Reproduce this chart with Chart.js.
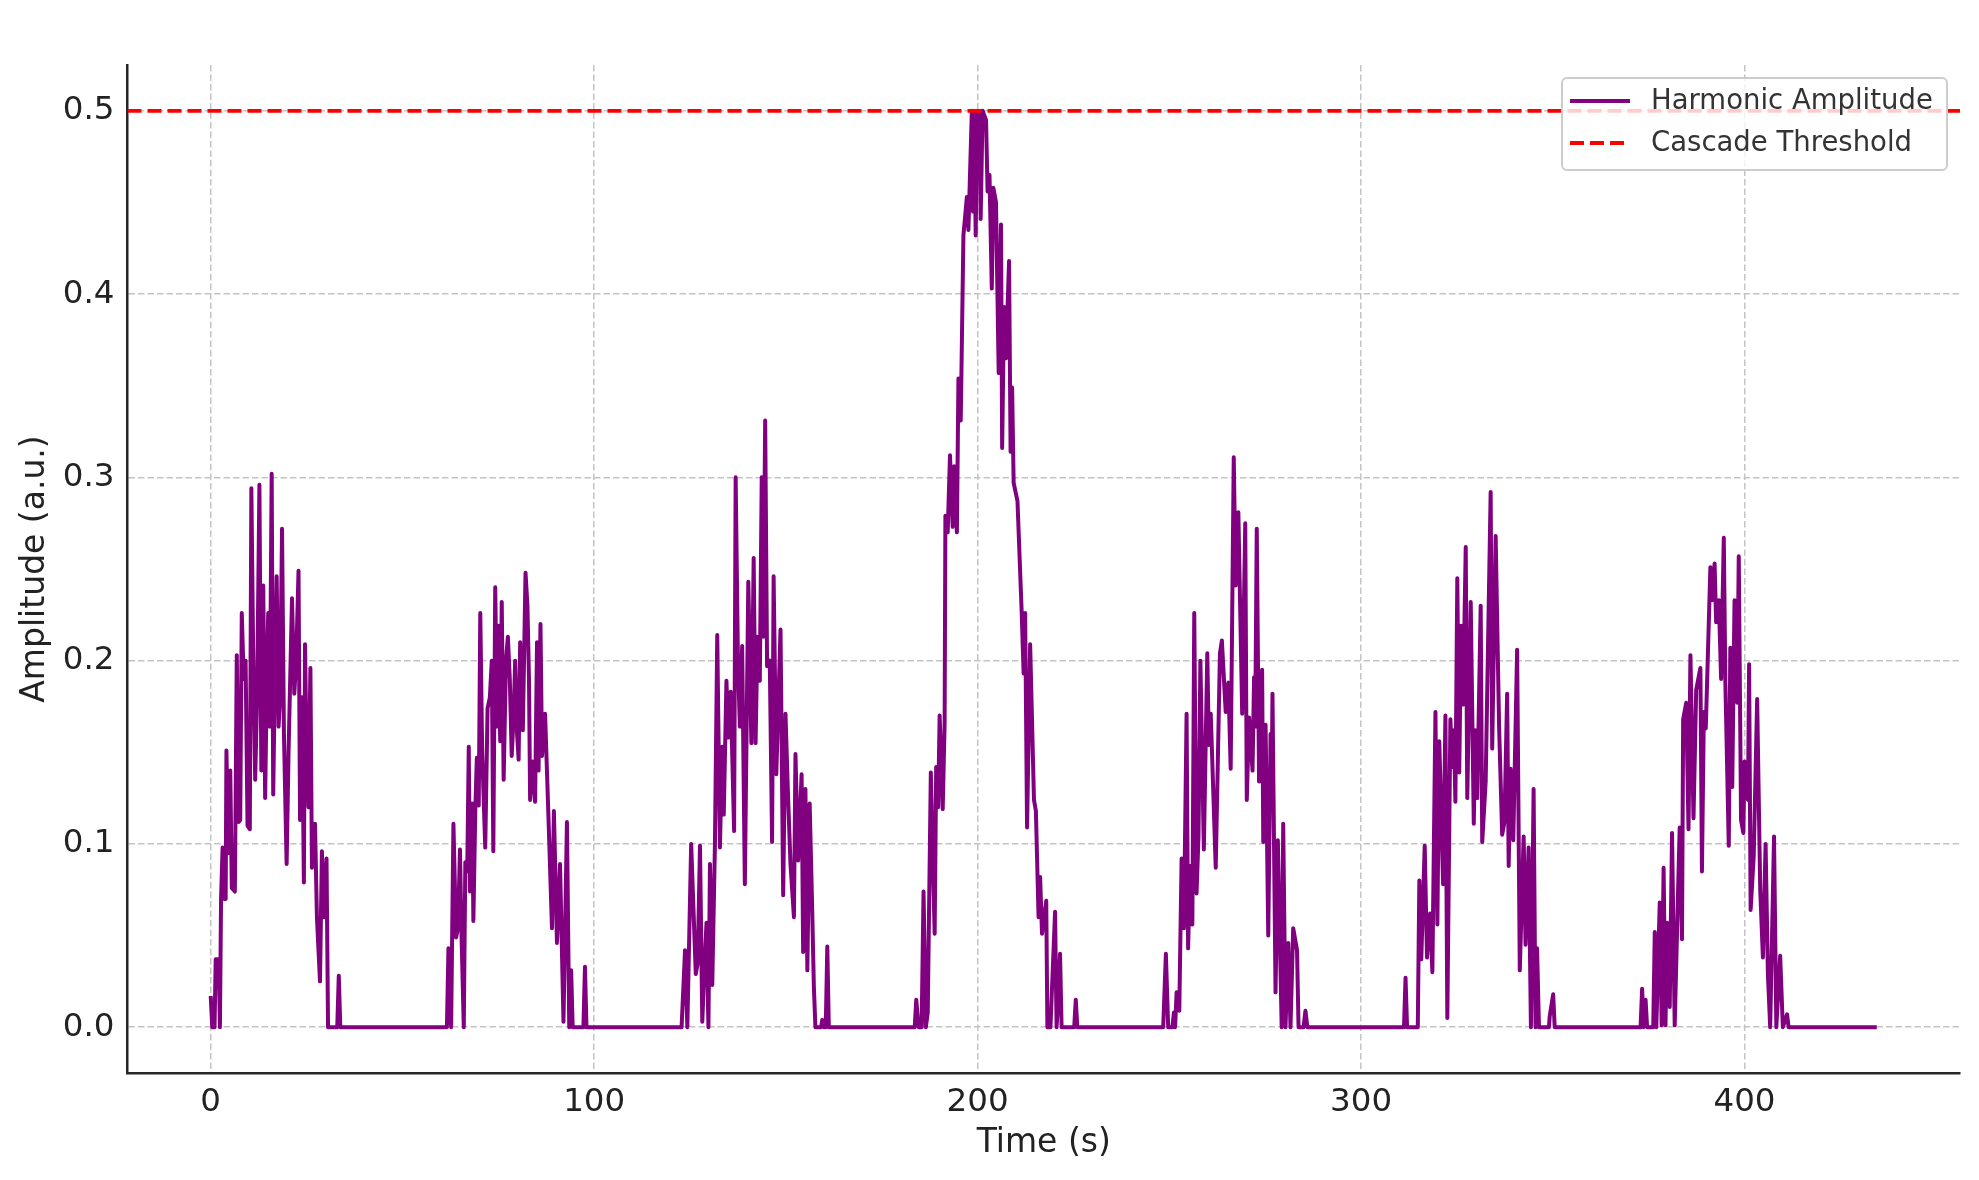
<!DOCTYPE html>
<html>
<head>
<meta charset="utf-8">
<script src="https://cdn.jsdelivr.net/npm/chart.js@4/dist/chart.umd.min.js"></script>
<style>
  html, body { margin: 0; padding: 0; background: #fff; }
  #wrap { width: 1979px; height: 1180px; }
</style>
</head>
<body>
<div id="wrap"><canvas id="chartEl"></canvas></div>
<script>
/* Données : [temps (s), amplitude] */
const burst1 = [[0, 0.017], [0.4, 0], [1.0, 0], [1.3, 0.037], [2.1, 0.037], [2.4, 0], [2.7, 0.07], [3.1, 0.098], [3.5, 0.07], [3.9, 0.07],
  [4.1, 0.151], [4.6, 0.095], [5.1, 0.14], [5.5, 0.076], [6.3, 0.074], [6.8, 0.203], [7.3, 0.112], [7.7, 0.113], [8.1, 0.226], [8.6, 0.19],
  [9.1, 0.2], [9.6, 0.11], [10.2, 0.108], [10.6, 0.294], [11.1, 0.2], [11.6, 0.135], [12.1, 0.18], [12.7, 0.296], [13.2, 0.14], [13.7, 0.241],
  [14.2, 0.125], [14.7, 0.2], [15.0, 0.226], [15.4, 0.164], [15.9, 0.302], [16.3, 0.127], [16.8, 0.2], [17.2, 0.246], [17.7, 0.164], [18.1, 0.18],
  [18.6, 0.272], [19.1, 0.16], [19.8, 0.089], [20.3, 0.15], [21.2, 0.234], [21.8, 0.182], [22.3, 0.2], [22.9, 0.249], [23.3, 0.113], [23.8, 0.18],
  [24.3, 0.079], [24.6, 0.209], [25.0, 0.15], [25.5, 0.12], [26.0, 0.196], [26.4, 0.087], [26.8, 0.1], [27.2, 0.111], [27.7, 0.06], [28.5, 0.025],
  [29.0, 0.096], [29.5, 0.06], [30.2, 0.092], [30.6, 0], [33.0, 0], [33.4, 0.028], [33.8, 0]]

const burst2 = [[61.6, 0], [62.0, 0.043], [62.7, 0], [63.3, 0.111], [64.0, 0.049], [64.5, 0.054], [65.0, 0.097], [65.4, 0.051], [66.0, 0], [66.4, 0.09],
  [66.9, 0.085], [67.3, 0.153], [67.6, 0.074], [68.2, 0.122], [68.5, 0.058], [69.0, 0.118], [69.4, 0.147], [69.9, 0.121], [70.3, 0.226], [70.8, 0.15],
  [71.6, 0.098], [72.2, 0.174], [72.8, 0.18], [73.3, 0.2], [73.7, 0.096], [74.2, 0.24], [74.7, 0.164], [75.0, 0.219], [75.5, 0.156], [75.9, 0.232],
  [76.4, 0.135], [77.0, 0.2], [77.5, 0.213], [78.0, 0.19], [78.5, 0.148], [79.0, 0.17], [79.4, 0.2], [79.9, 0.16], [80.3, 0.146], [80.7, 0.21],
  [81.4, 0.162], [82.1, 0.248], [82.6, 0.23], [83.0, 0.19], [83.3, 0.124], [83.9, 0.145], [84.6, 0.123], [85.1, 0.21], [85.5, 0.14], [86.0, 0.22],
  [86.4, 0.148], [87.2, 0.171], [88.0, 0.12], [89.0, 0.054], [89.5, 0.118], [90.3, 0.046], [91.1, 0.089], [92.0, 0.003], [92.9, 0.112], [93.5, 0],
  [94.0, 0.031], [94.4, 0], [97.2, 0], [97.6, 0.033], [98.0, 0]]

const burst3 = [[122.8, 0], [123.7, 0.042], [124.3, 0], [125.3, 0.1], [126.5, 0.029], [127.0, 0.035], [127.6, 0.099], [128.2, 0.003], [128.7, 0.03], [129.3, 0.057],
  [129.8, 0], [130.2, 0.089], [130.8, 0.023], [131.5, 0.1], [132.1, 0.214], [132.8, 0.098], [133.4, 0.153], [133.8, 0.116], [134.5, 0.189], [135.0, 0.158],
  [135.6, 0.183], [136.5, 0.107], [136.9, 0.3], [137.5, 0.2], [138.0, 0.164], [138.6, 0.208], [139.3, 0.078], [140.2, 0.243], [141.0, 0.155], [141.6, 0.256],
  [142.1, 0.155], [142.6, 0.213], [143.2, 0.189], [143.7, 0.3], [144.1, 0.213], [144.6, 0.331], [145.1, 0.197], [145.8, 0.2], [146.4, 0.101], [146.8, 0.246],
  [147.5, 0.138], [148.6, 0.217], [149.3, 0.072], [149.9, 0.171], [150.5, 0.13], [151.2, 0.089], [152.1, 0.06], [152.5, 0.149], [153.2, 0.091], [154.1, 0.138],
  [154.5, 0.041], [155.1, 0.13], [155.6, 0.031], [156.2, 0.122], [156.8, 0.07], [157.3, 0.022], [157.7, 0], [159.2, 0], [159.5, 0.004], [159.9, 0],
  [160.4, 0], [160.8, 0.044], [161.2, 0]]

const burst4 = [[183.6, 0], [184.0, 0.015], [184.6, 0], [185.4, 0], [185.9, 0.074], [186.5, 0], [187.0, 0.008], [187.8, 0.139], [188.8, 0.051], [189.2, 0.142],
  [189.7, 0.12], [190.1, 0.17], [190.9, 0.119], [191.4, 0.166], [191.6, 0.279], [192.2, 0.27], [192.8, 0.312], [193.5, 0.273], [193.9, 0.306], [194.6, 0.27],
  [195.0, 0.354], [195.6, 0.331], [196.3, 0.432], [197.2, 0.453], [197.6, 0.435], [198.5, 0.5], [198.8, 0.445], [199.1, 0.5], [199.5, 0.432], [199.9, 0.5],
  [200.3, 0.471], [200.6, 0.5], [200.8, 0.441], [201.3, 0.5], [202.2, 0.495], [202.6, 0.456], [203.1, 0.465], [203.7, 0.403], [204.1, 0.458], [204.8, 0.45],
  [205.5, 0.357], [206.1, 0.438], [206.4, 0.316], [206.9, 0.393], [207.4, 0.365], [208.2, 0.418], [208.6, 0.314], [209.0, 0.349], [209.4, 0.297], [210.4, 0.287],
  [211.5, 0.226], [212.0, 0.193], [212.4, 0.226], [212.9, 0.109], [213.7, 0.209], [214.7, 0.124], [215.2, 0.118], [215.9, 0.06], [216.3, 0.082], [216.8, 0.051],
  [217.9, 0.069], [218.2, 0], [219.0, 0], [220.2, 0.063], [220.6, 0], [221.0, 0.015], [221.5, 0.04], [221.9, 0], [225.2, 0], [225.6, 0.015], [226.0, 0]]

const burst5 = [[248.4, 0], [249.1, 0.04], [249.7, 0], [250.8, 0], [251.2, 0.008], [251.5, 0], [251.9, 0.019], [252.6, 0.009], [253.2, 0.092], [253.8, 0.054],
  [254.5, 0.171], [254.9, 0.043], [255.4, 0.088], [256.0, 0.056], [256.5, 0.226], [257.1, 0.073], [257.6, 0.104], [258.1, 0.2], [259.0, 0.097], [259.9, 0.204],
  [260.3, 0.154], [260.8, 0.171], [262.1, 0.087], [263.2, 0.204], [263.7, 0.211], [264.7, 0.172], [265.4, 0.188], [266.0, 0.141], [266.8, 0.311], [267.3, 0.241],
  [268.0, 0.281], [269.0, 0.171], [269.8, 0.275], [270.2, 0.124], [270.8, 0.169], [271.7, 0.14], [272.1, 0.191], [272.4, 0.164], [272.8, 0.272], [273.4, 0.134],
  [274.2, 0.195], [274.5, 0.101], [275.1, 0.165], [275.8, 0.05], [276.4, 0.16], [276.7, 0.134], [276.9, 0.182], [277.7, 0.019], [278.3, 0.102], [279.3, 0],
  [279.7, 0.111], [280.3, 0], [281.0, 0.046], [281.6, 0], [282.3, 0.054], [283.3, 0.042], [283.7, 0], [285.0, 0], [285.5, 0.009], [286.0, 0]]

const burst6 = [[311.2, 0], [311.6, 0.027], [312.0, 0], [314.8, 0], [315.2, 0.08], [315.7, 0.037], [316.6, 0.099], [317.2, 0.038], [318.0, 0.062], [318.6, 0.03],
  [319.4, 0.172], [319.9, 0.056], [320.4, 0.156], [321.4, 0.078], [322.0, 0.17], [322.5, 0.005], [323.3, 0.168], [323.8, 0.142], [324.2, 0.162], [324.6, 0.123],
  [325.1, 0.245], [325.6, 0.139], [326.1, 0.219], [326.6, 0.176], [327.3, 0.262], [327.7, 0.125], [328.6, 0.232], [329.4, 0.111], [329.8, 0.162], [330.3, 0.125],
  [331.2, 0.23], [331.6, 0.101], [332.5, 0.134], [333.8, 0.292], [334.2, 0.152], [335.1, 0.268], [336.0, 0.164], [336.8, 0.105], [337.4, 0.112], [338.1, 0.182],
  [338.5, 0.088], [339.0, 0.141], [339.7, 0.102], [340.7, 0.206], [341.4, 0.031], [342.4, 0.104], [342.9, 0.045], [343.7, 0.098], [344.3, 0], [345.0, 0.13],
  [345.5, 0], [345.9, 0.043], [346.4, 0], [349.0, 0], [349.2, 0.006], [350.1, 0.018], [350.5, 0]]

const burst7 = [[372.9, 0], [373.3, 0.021], [373.7, 0], [374.2, 0.015], [374.6, 0], [376.2, 0], [376.6, 0.052], [377.0, 0], [377.9, 0.068], [378.4, 0.001],
  [378.9, 0.087], [379.4, 0.001], [379.8, 0.057], [380.5, 0.011], [381.1, 0.106], [381.8, 0.001], [382.5, 0.06], [383.1, 0.109], [383.7, 0.048], [384.0, 0.168],
  [384.8, 0.177], [385.4, 0.108], [385.9, 0.203], [386.7, 0.114], [387.4, 0.184], [388.5, 0.196], [388.9, 0.085], [389.4, 0.172], [389.9, 0.163], [391.1, 0.251],
  [391.6, 0.233], [392.2, 0.253], [392.6, 0.221], [393.3, 0.233], [393.9, 0.19], [394.6, 0.267], [395.0, 0.189], [395.9, 0.099], [396.3, 0.207], [396.8, 0.131],
  [397.4, 0.233], [398.1, 0.177], [398.5, 0.257], [399.1, 0.113], [399.7, 0.106], [400.0, 0.145], [400.9, 0.124], [401.2, 0.198], [401.6, 0.064], [402.4, 0.093],
  [403.3, 0.179], [404.1, 0.075], [404.8, 0.038], [405.5, 0.1], [406.1, 0.029], [406.7, 0], [407.7, 0.104], [408.3, 0], [409.3, 0.039], [410.0, 0],
  [411.1, 0.007], [411.5, 0], [434.5, 0]]

const threshold = 0.5
const xLimits = [-21.7, 456.2]
const yLimits = [-0.025, 0.525]
const xTicks = [0, 100, 200, 300, 400]
const yTicks = [0, 0.1, 0.2, 0.3, 0.4, 0.5]

const harmonicColor = '#800080'
const thresholdColor = '#ff0000'
const dashPattern = [14, 6]
const fontFamily = '"DejaVu Sans", sans-serif'

const amplitudePoints = [burst1, burst2, burst3, burst4, burst5, burst6, burst7].flat().map(([x, y]) => ({ x, y }))

/* Légende encadrée dans le coin haut droit, comme matplotlib */
const boxLegend = {
  id: 'boxLegend',
  afterDraw: (chart) => {
    const { ctx, chartArea } = chart
    const w = 385, h = 92
    const x = chartArea.right - 13 - w
    const y = chartArea.top + 13
    ctx.save()
    ctx.beginPath()
    ctx.roundRect(x, y, w, h, 5)
    ctx.fillStyle = 'rgba(255,255,255,0.8)'
    ctx.fill()
    ctx.lineWidth = 2
    ctx.strokeStyle = '#cccccc'
    ctx.stroke()

    const rows = chart.data.datasets.map(d => ({ label: d.label, color: d.borderColor, dash: d.borderDash || [] }))
    rows.forEach((r, i) => {
      const cy = y + 23 + i * 42
      ctx.beginPath()
      ctx.setLineDash(r.dash)
      ctx.lineWidth = 3.8
      ctx.strokeStyle = r.color
      ctx.moveTo(x + 8, cy)
      ctx.lineTo(x + 68, cy)
      ctx.stroke()
      ctx.setLineDash([])
      ctx.fillStyle = '#333333'
      ctx.font = '27.5px ' + fontFamily
      ctx.textBaseline = 'middle'
      ctx.textAlign = 'left'
      ctx.fillText(r.label, x + 89, cy + 1)
    })
    ctx.restore()
  }
}

const gridOpts = { color: '#c4c4c4', lineWidth: 1.5, drawTicks: false }
const borderOpts = { display: true, color: '#262626', width: 2.5, dash: [6.5, 3] }

new Chart(document.querySelector('#chartEl'), {
  type: 'line',
  data: {
    datasets: [
      {
        label: 'Harmonic Amplitude',
        data: amplitudePoints,
        borderColor: harmonicColor,
        borderWidth: 4,
        borderJoinStyle: 'round',
        pointRadius: 0,
        tension: 0,
        order: 1
      },
      {
        label: 'Cascade Threshold',
        data: [{ x: xLimits[0], y: threshold }, { x: xLimits[1], y: threshold }],
        borderColor: thresholdColor,
        borderWidth: 3.8,
        borderDash: dashPattern,
        pointRadius: 0,
        order: 0
      }
    ]
  },
  options: {
    responsive: true,
    maintainAspectRatio: false,
    animation: false,
    layout: { padding: { top: 65, right: 19, left: 0, bottom: 0 } },
    plugins: { legend: { display: false }, tooltip: { enabled: false } },
    scales: {
      x: {
        type: 'linear',
        min: xLimits[0],
        max: xLimits[1],
        afterBuildTicks: (s) => { s.ticks = xTicks.map(v => ({ value: v })) },
        afterFit: (s) => { s.height = 107 },
        grid: gridOpts,
        border: borderOpts,
        ticks: { color: '#222222', font: { family: fontFamily, size: 32.5 }, padding: 10, maxRotation: 0, autoSkip: false },
        title: { display: true, text: 'Time (s)', color: '#222222', font: { family: fontFamily, size: 33 }, padding: { top: 0, bottom: 17 } }
      },
      y: {
        type: 'linear',
        min: yLimits[0],
        max: yLimits[1],
        afterBuildTicks: (s) => { s.ticks = yTicks.map(v => ({ value: v })) },
        afterFit: (s) => { s.width = 127.5 },
        grid: gridOpts,
        border: borderOpts,
        ticks: { color: '#222222', font: { family: fontFamily, size: 32.5 }, padding: 13, autoSkip: false, callback: (v) => v.toFixed(1) },
        title: { display: true, text: 'Amplitude (a.u.)', color: '#222222', font: { family: fontFamily, size: 33 }, padding: { top: 16, bottom: 0 } }
      }
    }
  },
  plugins: [boxLegend]
})
</script>
</body>
</html>
